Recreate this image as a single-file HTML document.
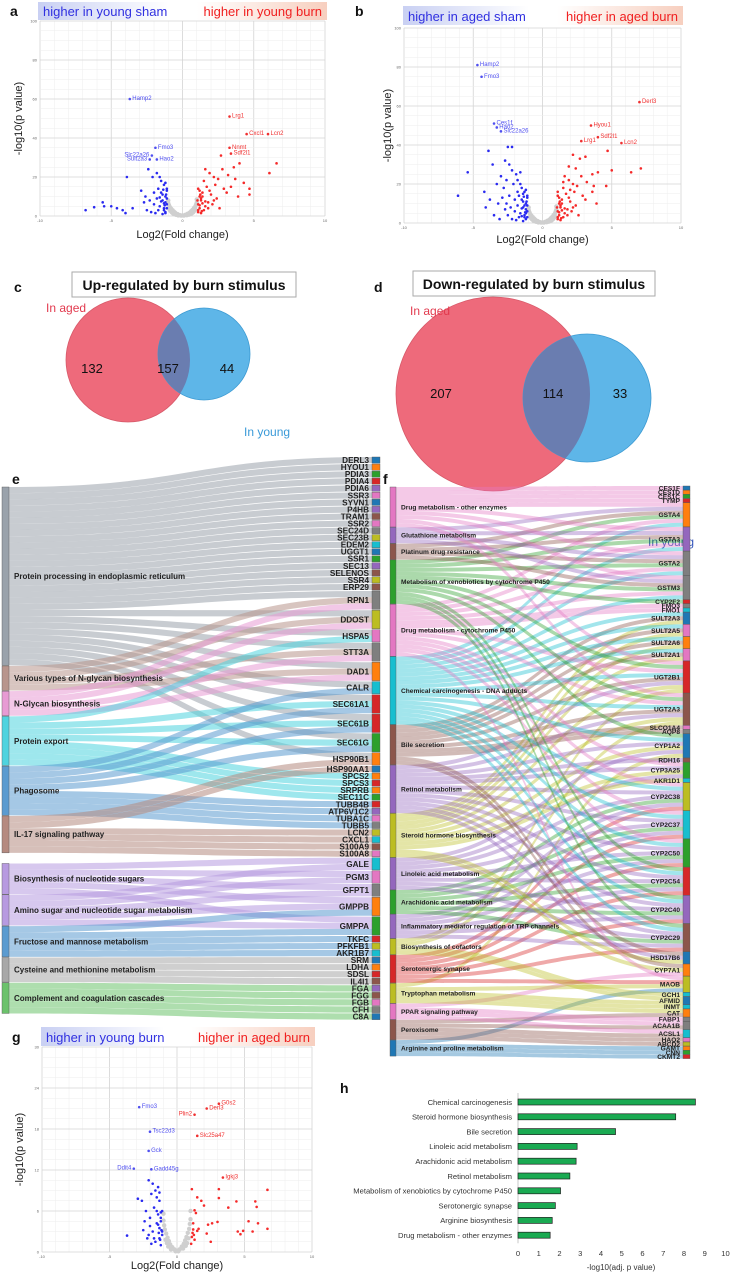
<!DOCTYPE html>
<html><head><meta charset="utf-8"><style>
html,body{margin:0;padding:0;background:#fff;}
svg{display:block;font-family:"Liberation Sans",sans-serif;}
</style></head><body>
<svg id="fig" width="731" height="1274" viewBox="0 0 731 1274" xmlns="http://www.w3.org/2000/svg">
<defs>
<linearGradient id="hdr" x1="0" x2="1" y1="0" y2="0">
<stop offset="0" stop-color="#c9d0f3"/><stop offset="0.45" stop-color="#ffffff"/><stop offset="0.55" stop-color="#ffffff"/><stop offset="1" stop-color="#f7cfbf"/>
</linearGradient>
<clipPath id="cRedC"><circle cx="128" cy="360" r="62"/></clipPath>
<clipPath id="cRedD"><circle cx="493" cy="394" r="97"/></clipPath>
</defs>
<g id="panels"></g>
</svg>
<script>
// ===== volcano data =====
var aBlue=[[-1.2,2],[-1.3,4],[-1.1,6],[-1.4,8],[-1.2,10],[-1.5,12],[-1.1,14],[-1.3,3],[-1.6,5],[-1.2,7],[-1.8,9],[-1.4,11],[-1.1,13],[-1.7,3],[-2.0,6],[-1.3,16],[-1.5,18],[-2.2,2],[-2.5,3],[-1.9,1.5],[-1.6,20],[-1.8,22],[-2.1,20],[-2.6,10],[-2.9,13],[-3.5,4],[-4.2,3],[-4.6,4],[-5.0,5],[-5.6,7],[-6.8,3],[-3.9,20],[-2.4,24],[-2.0,12],[-1.2,17],[-1.1,9],[-1.4,1],[-1.15,11],[-1.25,5.5],[-1.35,13.5],[-1.7,14],[-2.3,8],[-1.5,7.5],[-2.7,7],[-4.0,1.5],[-5.5,5],[-6.2,4.5],[-1.1,4],[-1.2,1.5],[-1.3,6.5],[-1.6,9.5]];
var aRed=[[1.1,2],[1.2,4],[1.1,6],[1.3,8],[1.2,10],[1.4,12],[1.1,14],[1.5,3],[1.6,5],[1.8,7],[1.3,9],[2.0,11],[1.7,15],[1.5,18],[2.2,20],[1.9,22],[2.5,19],[2.8,24],[3.2,21],[3.6,25],[4.0,27],[4.3,17],[4.7,14],[4.7,11],[3.9,10],[3.1,12],[2.4,9],[2.1,6],[1.8,4],[1.3,1.5],[2.7,31],[6.6,27],[6.1,22],[3.4,15],[2.9,14],[1.6,24],[1.2,13],[1.4,6.5],[1.25,11],[2.3,16],[3.7,19],[1.9,13],[1.05,8],[2.6,4],[1.1,3],[1.2,5.5],[1.4,10],[1.6,7.5],[2.2,8],[1.35,2.5]];
var aLabels=[["Hamp2",-3.7,60,"start"],["Fmo3",-1.9,35,"start"],["Slc22a26",-2.15,31,"end"],["Hao2",-1.8,29,"start"],["Sult2a3",-2.3,29,"end"],["Lrg1",3.3,51,"start"],["Cxcl1",4.5,42,"start"],["Lcn2",6.0,42,"start"],["Nnmt",3.3,35,"start"],["Sdf2l1",3.4,32,"start"]];
var bBlue=[[-1.2,2],[-1.3,4],[-1.1,6],[-1.4,8],[-1.2,10],[-1.5,12],[-1.1,14],[-1.3,3],[-1.6,5],[-1.2,7],[-1.8,9],[-1.4,11],[-1.1,13],[-1.7,3],[-2.0,6],[-1.3,16],[-1.5,18],[-2.2,2],[-2.5,4],[-1.9,1.5],[-1.6,20],[-1.8,22],[-2.1,20],[-2.6,10],[-2.9,13],[-3.5,4],[-4.1,8],[-4.2,16],[-3.8,12],[-5.4,26],[-6.1,14],[-3.9,37],[-2.2,39],[-2.5,39],[-2.0,12],[-1.2,17],[-1.1,9],[-1.4,1],[-1.15,11],[-1.25,5.5],[-1.35,13.5],[-1.7,14],[-2.3,8],[-1.5,7.5],[-2.7,7],[-3.0,24],[-2.7,32],[-2.4,30],[-2.2,27],[-1.9,25],[-3.3,20],[-3.1,2],[-2.8,18],[-1.6,26],[-2.6,22],[-3.6,30],[-1.1,3],[-1.2,5],[-1.3,9],[-1.4,15],[-1.5,3.5],[-1.8,16],[-2.4,14],[-3.2,10]];
var bRed=[[1.1,2],[1.2,4],[1.1,6],[1.3,8],[1.2,10],[1.4,12],[1.1,14],[1.5,3],[1.6,5],[1.8,7],[1.3,9],[2.0,11],[1.7,15],[1.5,18],[2.2,20],[1.9,22],[2.5,19],[2.8,24],[3.2,21],[3.6,25],[4.0,26],[4.6,19],[4.7,37],[5.0,27],[6.4,26],[7.1,28],[3.9,10],[3.1,12],[2.4,9],[2.1,6],[1.8,4],[1.3,1.5],[2.7,33],[2.2,35],[3.1,34],[3.6,16],[2.9,14],[1.6,24],[1.2,13],[1.4,6.5],[1.25,11],[2.3,16],[3.7,19],[1.9,13],[1.05,8],[2.6,4],[1.1,3],[1.2,5.5],[1.4,10],[1.6,7.5],[2.2,8],[1.35,2.5],[1.9,29],[2.4,28],[1.5,21],[1.1,16],[2.0,17]];
var bLabels=[["Hamp2",-4.7,81,"start"],["Fmo3",-4.4,75,"start"],["Ces1f",-3.5,51,"start"],["Hao2",-3.3,49,"start"],["Slc22a26",-3.0,47,"start"],["Derl3",7.0,62,"start"],["Hyou1",3.5,50,"start"],["Sdf2l1",4.0,44,"start"],["Lrg1",2.8,42,"start"],["Lcn2",5.7,41,"start"]];
var gBlue=[[-1.2,1],[-1.3,2],[-1.1,3],[-1.4,4],[-1.2,5],[-1.5,6],[-1.1,2.5],[-1.3,3.5],[-1.6,1.5],[-1.2,4.5],[-1.8,3],[-1.4,5.5],[-1.1,6],[-1.7,2],[-2.0,3.8],[-1.3,7.5],[-1.5,8],[-2.2,2],[-1.9,1.2],[-1.6,9],[-1.8,10],[-2.1,10.5],[-2.6,7.5],[-2.9,7.8],[-3.7,2.4],[-2.3,6],[-1.5,4.2],[-1.25,1.8],[-1.35,2.8],[-2.4,4.5],[-2.0,5],[-1.7,6.5],[-1.9,8.5],[-1.4,9.5],[-1.3,8.7],[-1.2,5.8],[-1.15,3.2],[-2.5,3.2],[-2.1,2.5]];
var gRed=[[1.1,2.2],[1.2,3.3],[1.15,2.8],[1.3,1.8],[1.2,4.2],[1.4,5.7],[1.3,6.1],[1.5,3.1],[1.6,3.4],[1.8,7.5],[2.0,6.8],[1.5,8],[2.3,4],[2.5,1.5],[2.2,2.7],[3.0,4.4],[3.1,7.9],[3.1,9.2],[3.8,6.5],[4.4,7.4],[4.9,3.1],[4.7,2.6],[5.3,4.5],[5.6,3],[5.8,7.4],[5.9,6.6],[6.0,4.2],[6.7,9.1],[6.7,3.4],[4.5,3.0],[1.1,9.2],[1.05,1.2],[1.25,2.5],[2.6,4.2]];
var gLabels=[["Fmo3",-2.8,21.2,"start"],["Tsc22d3",-2.0,17.6,"start"],["Gck",-2.1,14.8,"start"],["Ddit4",-3.2,12.2,"end"],["Gadd45g",-1.9,12.1,"start"],["G0s2",3.1,21.7,"start"],["Derl3",2.2,21.0,"start"],["Plin2",1.3,20.1,"end"],["Slc25a47",1.5,17.0,"start"],["Igkj3",3.4,10.9,"start"]];
var grayPts=[[0,0.3],[-0.2,0.5],[0.2,0.6],[-0.35,1],[0.35,1.1],[-0.5,1.6],[0.5,1.7],[-0.6,2.3],[0.6,2.4],[-0.7,3],[0.7,3.1],[-0.8,3.8],[0.8,4],[-0.9,4.7],[0.9,4.9],[-0.95,5.6],[0.95,5.8],[-1,6.6],[1,6.8],[-0.85,2.6],[0.85,2.8],[-0.45,0.6],[0.45,0.7],[-0.75,1.8],[0.75,1.9],[-0.65,1.2],[0.65,1.3],[-0.9,3.2],[0.9,3.4],[-1,8],[1,8.5],[-0.1,0.2],[0.1,0.2],[-0.3,0.3],[0.3,0.4],[-0.55,0.9],[0.55,1]];
var gGrayPts=[[0,0.2],[-0.2,0.4],[0.2,0.4],[-0.35,0.7],[0.35,0.8],[-0.5,1.1],[0.5,1.2],[-0.6,1.6],[0.6,1.7],[-0.7,2.1],[0.7,2.2],[-0.8,2.7],[0.8,2.8],[-0.9,3.3],[0.9,3.4],[-0.95,3.9],[0.95,4.1],[-1,4.6],[1,4.8],[-0.85,1.8],[0.85,2],[-0.45,0.4],[0.45,0.5],[-0.75,1.3],[0.75,1.3],[-0.65,0.8],[0.65,0.9],[-1,5.6],[1,6],[-0.1,0.1],[0.1,0.1]];
// ===== panel h data =====
var hCats=["Chemical carcinogenesis","Steroid hormone biosynthesis","Bile secretion","Linoleic acid metabolism","Arachidonic acid metabolism","Retinol metabolism","Metabolism of xenobiotics by cytochrome P450","Serotonergic synapse","Arginine biosynthesis","Drug metabolism - other enzymes"];
var hVals=[8.55,7.6,4.7,2.85,2.8,2.5,2.05,1.8,1.65,1.55];
var hTicks=[0,1,2,3,4,5,6,7,8,9,10];
// ===== sankey e data =====
var eCats=["Protein processing in endoplasmic reticulum","Various types of N-glycan biosynthesis","N-Glycan biosynthesis","Protein export","Phagosome","IL-17 signaling pathway","Biosynthesis of nucleotide sugars","Amino sugar and nucleotide sugar metabolism","Fructose and mannose metabolism","Cysteine and methionine metabolism","Complement and coagulation cascades"];
var eCatCols=["#9aa2ab","#b8958d","#e79bd4","#4fd3df","#5b9bd0","#b58a80","#b79ae0","#b79ae0","#5b9bd0","#a8a8a8","#6cc26c"];
var eGenes=["DERL3","HYOU1","PDIA3","PDIA4","PDIA6","SSR3","SYVN1","P4HB","TRAM1","SSR2","SEC24D","SEC23B","EDEM2","UGGT1","SSR1","SEC13","SELENOS","SSR4","ERP29","RPN1","DDOST","HSPA5","STT3A","DAD1","CALR","SEC61A1","SEC61B","SEC61G","HSP90B1","HSP90AA1","SPCS2","SPCS3","SRPRB","SEC11C","TUBB4B","ATP6V1C2","TUBA1C","TUBB5","LCN2","CXCL1","S100A9","S100A8","GALE","PGM3","GFPT1","GMPPB","GMPPA","TKFC","PFKFB1","AKR1B7","SRM","LDHA","SDSL","IL4I1","FGA","FGG","FGB","CFH","C8A"];
var eGeneCols="bogrpqbpnqycCbgpncnycqyoCrrgoborogrpqycCnqCqyogrcCbornpnqy";
var eLinks={"0":["DERL3","HYOU1","PDIA3","PDIA4","PDIA6","SSR3","SYVN1","P4HB","TRAM1","SSR2","SEC24D","SEC23B","EDEM2","UGGT1","SSR1","SEC13","SELENOS","SSR4","ERP29","RPN1","DDOST","HSPA5","STT3A","DAD1","CALR","SEC61A1","SEC61B","SEC61G","HSP90B1"],
"1":["RPN1","DDOST","STT3A","DAD1"],"2":["RPN1","DDOST","STT3A","DAD1"],
"3":["HSPA5","SEC61A1","SEC61B","SEC61G","SPCS2","SPCS3","SRPRB","SEC11C"],
"4":["CALR","SEC61A1","SEC61B","SEC61G","TUBB4B","ATP6V1C2","TUBA1C","TUBB5"],
"5":["HSP90B1","HSP90AA1","LCN2","CXCL1","S100A9","S100A8"],
"6":["GALE","PGM3","GFPT1","GMPPB","GMPPA"],"7":["GALE","PGM3","GFPT1","GMPPB","GMPPA"],
"8":["GMPPB","GMPPA","TKFC","PFKFB1","AKR1B7"],"9":["SRM","LDHA","SDSL","IL4I1"],"10":["FGA","FGG","FGB","CFH","C8A"]};
// ===== sankey f data =====
var fCats=["Drug metabolism - other enzymes","Glutathione metabolism","Platinum drug resistance","Metabolism of xenobiotics by cytochrome P450","Drug metabolism - cytochrome P450","Chemical carcinogenesis - DNA adducts","Bile secretion","Retinol metabolism","Steroid hormone biosynthesis","Linoleic acid metabolism","Arachidonic acid metabolism","Inflammatory mediator regulation of TRP channels","Biosynthesis of cofactors","Serotonergic synapse","Tryptophan metabolism","PPAR signaling pathway","Peroxisome","Arginine and proline metabolism"];
var fCatCols=["#e377c2","#9467bd","#8c564b","#2ca02c","#e377c2","#17becf","#8c564b","#9467bd","#bcbd22","#9467bd","#2ca02c","#9467bd","#bcbd22","#d62728","#bcbd22","#e377c2","#8c564b","#1f77b4"];
var fGenes=["CES1F","CES1D","CES1C","TYMP","GSTA4","GSTA3","GSTA2","GSTM3","CYP2F2","FMO3","FMO1","SULT2A3","SULT2A5","SULT2A6","SULT2A1","UGT2B1","UGT2A3","SLCO1A4","AQP8","CYP1A2","RDH16","CYP3A25","AKR1D1","CYP2C38","CYP2C37","CYP2C50","CYP2C54","CYP2C40","CYP2C29","HSD17B6","CYP7A1","MAOB","GCH1","AFMID","INMT","CAT","FABP1","ACAA1B","ACSL1","HAO2","ABCD2","GAMT","CNN","CKMT2"];
var fGeneCols="bogropyyryCbqoqrnqybngCcCgrpnbocCbCoyyCqcogr";
var fGeneCats=[[0],[0],[0],[0],[0,1,2,3,4,5],[0,1,2,3,4,5],[0,1,2,3,4,5],[0,1,2,3,4,5],[3],[4],[4],[5,6,8],[5,6,8],[5,6,8],[5,6,8],[0,3,4,5,6,7,8,12],[0,3,4,5,6,7,8,12],[6],[6],[3,5,7,8,9,14],[7],[4,7,8,9],[8],[4,5,7,9,10,11,13],[4,5,7,9,10,11,13],[4,5,7,9,10,11,13],[3,5,7,9,10,11,13],[3,5,7,9,10,11,13],[3,5,7,9,10,11,13],[6,7,8],[6,8,15],[4,13,14,17],[12],[12,14],[14],[14,16],[15],[15,16],[15,16],[16],[16],[17],[17],[17]];

var NS="http://www.w3.org/2000/svg";
var root=document.getElementById("panels");
function mk(tag,attrs,parent,txt){var e=document.createElementNS(NS,tag);for(var k in attrs)e.setAttribute(k,attrs[k]);if(txt!==undefined)e.textContent=txt;(parent||root).appendChild(e);return e;}
var PAL={b:"#1f77b4",o:"#ff7f0e",g:"#2ca02c",r:"#d62728",p:"#9467bd",n:"#8c564b",q:"#e377c2",y:"#7f7f7f",c:"#bcbd22",C:"#17becf"};
function colOf(s,i){var ch=s.charAt(i%s.length);return PAL[ch]||"#888";}

// ===== panel letters =====
[["a",10,16],["b",355,16],["c",14,292],["d",374,292],["e",12,484],["f",383,484],["g",12,1042],["h",340,1093]].forEach(function(l){
 var t=mk("text",{x:l[1],y:l[2],"font-size":"14","font-weight":"bold",fill:"#111"},root,l[0]);
 
 
});

// ===== volcano =====
function volcano(name,c,blue,red,gray,labels){
 var g=mk("g",{});
 
 
 var hb=mk("rect",{x:c.hx0,y:c.hy0,width:c.hx1-c.hx0,height:c.hy1-c.hy0,fill:"url(#hdr)"},g);
 
 
 var ht1=mk("text",{x:c.hx0+5,y:c.hy1-4,"font-size":"13",fill:"#3030e0"},g,c.left);
 
 
 var ht2=mk("text",{x:c.hx1-5,y:c.hy1-4,"font-size":"13",fill:"#f02020","text-anchor":"end"},g,c.right);
 
 
 function X(v){return c.x0+(v+10)/20*(c.x1-c.x0);}
 function Y(v){return c.y1-v/c.ymax*(c.y1-c.y0);}
 for(var v=-10;v<=10;v+=1){mk("line",{x1:X(v),x2:X(v),y1:c.y0,y2:c.y1,stroke:v%5==0?"#d4d4d4":"#eeeeee","stroke-width":v%5==0?0.8:0.5},g);}
 var step=c.ymax/5,minor=step/4;
 for(var w=0;w<=c.ymax+0.001;w+=minor){var maj=Math.abs(w/step-Math.round(w/step))<0.01;mk("line",{x1:c.x0,x2:c.x1,y1:Y(w),y2:Y(w),stroke:maj?"#d4d4d4":"#eeeeee","stroke-width":maj?0.8:0.5},g);}
 for(var t=0;t<=5;t++){var tl=mk("text",{x:c.x0-3,y:Y(t*step)+1.5,"font-size":"4","text-anchor":"end",fill:"#666"},g,String(t*step));}
 [-10,-5,0,5,10].forEach(function(v){var tl=mk("text",{x:X(v),y:c.y1+6,"font-size":"4","text-anchor":"middle",fill:"#666"},g,String(v));});
 gray.forEach(function(p){var d=mk("circle",{cx:X(p[0]),cy:Y(p[1]),r:2.2,fill:"#cfcfcf"},g);});
 blue.forEach(function(p){var d=mk("circle",{cx:X(p[0]),cy:Y(p[1]),r:1.3,fill:"#2a2af0"},g);});
 red.forEach(function(p){var d=mk("circle",{cx:X(p[0]),cy:Y(p[1]),r:1.3,fill:"#f52a2a"},g);});
 labels.forEach(function(l){var col=l[1]<0?"#5050f0":"#f03030";
  var d=mk("circle",{cx:X(l[1]),cy:Y(l[2]),r:1.3,fill:col},g);
  var tx=mk("text",{x:X(l[1])+(l[3]=="start"?2.5:-2.5),y:Y(l[2])+1,"font-size":"6",fill:col,"text-anchor":l[3]},g,l[0]);});
 var yl=mk("text",{x:0,y:0,"font-size":"11",fill:"#222","text-anchor":"middle",transform:"translate("+c.ylx+","+((c.y0+c.y1)/2)+") rotate(-90)"},g,"-log10(p value)");
 
 var xl=mk("text",{x:(c.x0+c.x1)/2,y:c.xly,"font-size":"11",fill:"#222","text-anchor":"middle"},g,"Log2(Fold change)");
 
}
volcano("volcano-young",{hx0:38,hx1:327,hy0:2,hy1:20,left:"higher in young sham",right:"higher in young burn",x0:40,x1:325,y0:21,y1:216,ymax:100,ylx:22,xly:238},aBlue,aRed,grayPts,aLabels);
volcano("volcano-aged",{hx0:403,hx1:683,hy0:6,hy1:25,left:"higher in aged sham",right:"higher in aged burn",x0:404,x1:681,y0:28,y1:223,ymax:100,ylx:391,xly:243},bBlue,bRed,grayPts,bLabels);
volcano("volcano-burn",{hx0:41,hx1:315,hy0:1027,hy1:1046,left:"higher in young burn",right:"higher in aged burn",x0:42,x1:312,y0:1047,y1:1252,ymax:30,ylx:23,xly:1269},gBlue,gRed,gGrayPts,gLabels);

// ===== venn =====
function venn(name,title,bx,bw,by,R,B,clip,nums,aged,young){
 var g=mk("g",{});
 var bxr=mk("rect",{x:bx,y:by,width:bw,height:25,fill:"#fff",stroke:"#aaa","stroke-width":1},g);
 var tt=mk("text",{x:bx+bw/2,y:by+18,"font-size":"14","font-weight":"bold","text-anchor":"middle",fill:"#111"},g,title);
 var rc=mk("circle",{cx:R[0],cy:R[1],r:R[2],fill:"#ee6a7b",stroke:"#d85a6a","stroke-width":0.8},g);
 var bc=mk("circle",{cx:B[0],cy:B[1],r:B[2],fill:"#5eb6e8",stroke:"#3d9bd3","stroke-width":0.8},g);
 var oc=mk("circle",{cx:B[0],cy:B[1],r:B[2],fill:"#6a7db0","clip-path":"url(#"+clip+")"},g);
 nums.forEach(function(n){var t=mk("text",{x:n[1],y:n[2],"font-size":"13","text-anchor":"middle",fill:"#111"},g,n[0]);});
 var a=mk("text",{x:aged[0],y:aged[1],"font-size":"12",fill:"#e23a4e"},g,"In aged");
 var y=mk("text",{x:young[0],y:young[1],"font-size":"12",fill:young[2]},g,"In young");
}
venn("venn-up","Up-regulated by burn stimulus",72,224,272,[128,360,62],[204,354,46],"cRedC",[["132",92,373],["157",168,373],["44",227,373]],[46,312],[244,436,"#3a9ad8"]);
venn("venn-down","Down-regulated by burn stimulus",413,242,271,[493,394,97],[587,398,64],"cRedD",[["207",441,398],["114",553,398],["33",620,398]],[410,315],[648,546,"#3355bb"]);

// ===== sankey =====
function sankey(name,cfg,cats,catCols,genes,geneCols,pairs){
 var g=mk("g",{});
 var u=cfg.unit;
 var cnt=cats.map(function(){return 0;}),gcnt=genes.map(function(){return 0;});
 pairs.forEach(function(p){cnt[p[0]]++;gcnt[p[1]]++;});
 var L=[],yy=cfg.ly;
 cats.forEach(function(c,i){if(cfg.bigGapAt===i)yy+=cfg.bigGap;L.push([yy,yy+cnt[i]*u]);yy+=cnt[i]*u+cfg.lgap;});
 var Rg=[];yy=cfg.ry;
 genes.forEach(function(c,i){Rg.push([yy,yy+gcnt[i]*u]);yy+=gcnt[i]*u+cfg.rgap;});
 var lo=cats.map(function(){return 0;}),ro=genes.map(function(){return 0;});
 var bySrc=pairs.slice().sort(function(a,b){return a[0]-b[0]||a[1]-b[1];});
 var sy={};bySrc.forEach(function(p){sy[p[0]+"_"+p[1]]=L[p[0]][0]+lo[p[0]]*u;lo[p[0]]++;});
 var byTgt=pairs.slice().sort(function(a,b){return a[1]-b[1]||a[0]-b[0];});
 var ty={};byTgt.forEach(function(p){ty[p[0]+"_"+p[1]]=Rg[p[1]][0]+ro[p[1]]*u;ro[p[1]]++;});
 var x0=cfg.lx1,x1=cfg.rx0,xm=(x0+x1)/2;
 pairs.forEach(function(p){var k=p[0]+"_"+p[1],a=sy[k],b=ty[k];
  var d="M"+x0+","+a+"C"+xm+","+a+" "+xm+","+b+" "+x1+","+b+"L"+x1+","+(b+u)+"C"+xm+","+(b+u)+" "+xm+","+(a+u)+" "+x0+","+(a+u)+"Z";
  var pth=mk("path",{d:d,fill:catCols[p[0]],"fill-opacity":cfg.op},g);
  
  
 });
 cats.forEach(function(c,i){
  var r=mk("rect",{x:cfg.lx0,y:L[i][0],width:cfg.lx1-cfg.lx0,height:L[i][1]-L[i][0],fill:catCols[i],stroke:"#555","stroke-width":0.4},g);
  
  var t=mk("text",{x:cfg.lx1+5,y:(L[i][0]+L[i][1])/2+cfg.lfs*0.35,"font-size":cfg.lfs,"font-weight":"bold",fill:"#222"},g,c);
  
 });
 genes.forEach(function(c,i){
  var r=mk("rect",{x:cfg.rx0,y:Rg[i][0],width:cfg.rx1-cfg.rx0,height:Rg[i][1]-Rg[i][0],fill:colOf(geneCols,i),stroke:"#555","stroke-width":0.4},g);
  
  var t=mk("text",{x:cfg.rx0-3,y:(Rg[i][0]+Rg[i][1])/2+cfg.rfs*0.36,"font-size":cfg.rfs,"font-weight":"bold",fill:"#222","text-anchor":"end"},g,c);
  
 });
}
var ePairs=[];for(var k in eLinks){eLinks[k].forEach(function(gn){ePairs.push([+k,eGenes.indexOf(gn)]);});}
sankey("sankey-e",{unit:6.15,ly:487,lgap:0.6,bigGap:10,bigGapAt:6,ry:457,rgap:0.9,lx0:2,lx1:9,rx0:372,rx1:380,op:0.55,lfs:8,rfs:8.2},eCats,eCatCols,eGenes,eGeneCols,ePairs);
var fPairs=[];fGeneCats.forEach(function(cs,gi){cs.forEach(function(ci){fPairs.push([ci,gi]);});});
sankey("sankey-f",{unit:4,ly:487,lgap:0.3,ry:486,rgap:0.2,lx0:390,lx1:396,rx0:683,rx1:690,op:0.4,lfs:6.6,rfs:6.6},fCats,fCatCols,fGenes,fGeneCols,fPairs);

// ===== bar chart h =====
(function(){
 var g=mk("g",{});
 var x0=518,x1=725.5,yTop=1102,dy=14.8;
 function X(v){return x0+v/10*(x1-x0);}
 function Y(i){return yTop+i*dy;}
 var ax=mk("line",{x1:x0,x2:x0,y1:1093,y2:Y(hCats.length-1)+8,stroke:"#bbb","stroke-width":0.8},g);
 
 hCats.forEach(function(c,i){
  var r=mk("rect",{x:x0,y:Y(i)-3,width:X(hVals[i])-x0,height:6,fill:"#1aaa52",stroke:"#222","stroke-width":0.7},g);
  
  var t=mk("text",{x:x0-6,y:Y(i)+2.8,"font-size":"7.6","text-anchor":"end",fill:"#333"},g,c);
  
 });
 hTicks.forEach(function(v){var t=mk("text",{x:X(v),y:1256,"font-size":"7.6","text-anchor":"middle",fill:"#333"},g,String(v));});
 var xl=mk("text",{x:621,y:1270,"font-size":"8","text-anchor":"middle",fill:"#333"},g,"-log10(adj. p value)");
 
})();
</script>
</body></html>
